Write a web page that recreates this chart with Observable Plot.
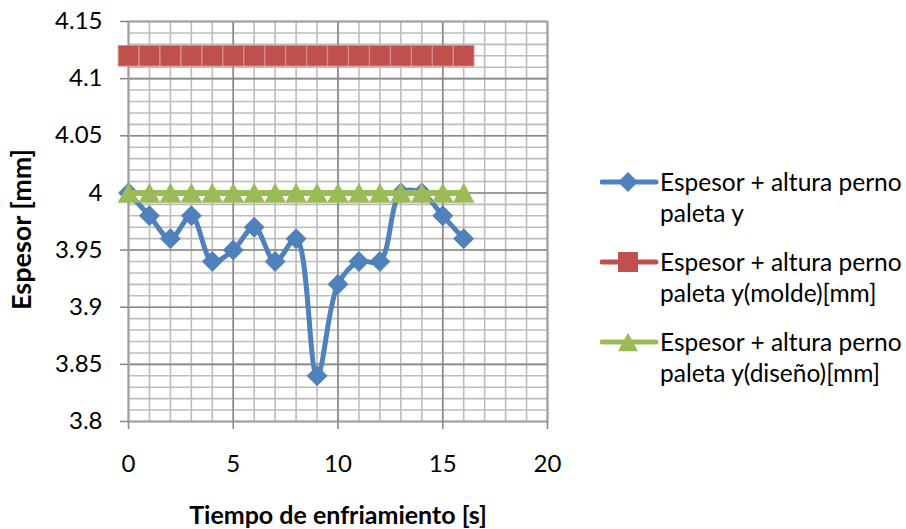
<!DOCTYPE html>
<html>
<head>
<meta charset="utf-8">
<script src="https://cdn.jsdelivr.net/npm/d3@7"></script>
<script src="https://cdn.jsdelivr.net/npm/@observablehq/plot@0.6"></script>
<style>
  html, body { margin: 0; padding: 0; background: #fff; }
  #wrap { position: relative; width: 906px; height: 529px; font-family: Lato, "Open Sans", sans-serif; }
  .leg { position: absolute; display: flex; align-items: flex-start; }
  .leg .txt { font-size: 24.5px; line-height: 31px; color: #000; white-space: nowrap; }
  .leg svg { margin-top: 5px; }
</style>
</head>
<body>
<div id="wrap"></div>
<script>
// ---- data ----
const tiempo = [0, 1, 2, 3, 4, 5, 6, 7, 8, 9, 10, 11, 12, 13, 14, 15, 16];
const espesor = [4.00, 3.98, 3.96, 3.98, 3.94, 3.95, 3.97, 3.94, 3.96, 3.84, 3.92, 3.94, 3.94, 4.00, 4.00, 3.98, 3.96];
const molde = [4.12, 4.12, 4.12, 4.12, 4.12, 4.12, 4.12, 4.12, 4.12, 4.12, 4.12, 4.12, 4.12, 4.12, 4.12, 4.12, 4.12];
const diseno = [4.00, 4.00, 4.00, 4.00, 4.00, 4.00, 4.00, 4.00, 4.00, 4.00, 4.00, 4.00, 4.00, 4.00, 4.00, 4.00, 4.00];
const seriesNames = [
  ["Espesor + altura perno", "paleta y"],
  ["Espesor + altura perno", "paleta y(molde)[mm]"],
  ["Espesor + altura perno", "paleta y(diseño)[mm]"]
];
const seriesColors = ["#4F81BD", "#C0504D", "#9BBB59"];
const xTicks = [0, 5, 10, 15, 20];
const yTicks = [3.8, 3.85, 3.9, 3.95, 4.0, 4.05, 4.1, 4.15];
const xTitle = "Tiempo de enfriamiento [s]";
const yTitle = "Espesor [mm]";

// ---- symbols ----
const diamondSym = { draw(ctx, size) { const r = Math.sqrt(size / Math.PI); ctx.moveTo(0, -r); ctx.lineTo(r, 0); ctx.lineTo(0, r); ctx.lineTo(-r, 0); ctx.closePath(); } };
const squareSym = { draw(ctx, size) { const r = Math.sqrt(size / Math.PI); ctx.rect(-r, -r, 2 * r, 2 * r); } };
const triSym = { draw(ctx, size) { const r = Math.sqrt(size / Math.PI); const h = r * 0.92; ctx.moveTo(0, -h); ctx.lineTo(r, h); ctx.lineTo(-r, h); ctx.closePath(); } };
const symbols = [diamondSym, squareSym, triSym];

const rows = (ys) => tiempo.map((t, i) => ({ t, v: ys[i] }));
const dBlue = rows(espesor), dRed = rows(molde), dGreen = rows(diseno);

const minorX = d3.range(0, 20.001, 1);
const minorY = d3.range(380, 415.001, 1).map(v => v / 100);
const fmt = d => String(+d.toFixed(2));

const chart = Plot.plot({
  width: 906,
  height: 529,
  marginLeft: 128,
  marginRight: 359,
  marginTop: 21,
  marginBottom: 108,
  x: { domain: [0, 20] },
  y: { domain: [3.8, 4.15] },
  style: { fontFamily: "Lato, 'Open Sans', sans-serif", fontSize: "24px", color: "#000", background: "#fff", overflow: "visible" },
  marks: [
    Plot.ruleX(minorX, { stroke: "#bcbcbc", strokeWidth: 1.6 }),
    Plot.ruleY(minorY, { stroke: "#bcbcbc", strokeWidth: 1.6 }),
    Plot.ruleX(xTicks, { stroke: "#8a8a8a", strokeWidth: 1.6 }),
    Plot.ruleY(yTicks, { stroke: "#8a8a8a", strokeWidth: 1.6 }),
    Plot.frame({ stroke: "#a0a0a0", strokeWidth: 1.6 }),
    Plot.axisX({ ticks: xTicks, tickSize: 8, tickPadding: 25, stroke: "#8a8a8a", strokeWidth: 1.6, label: null, tickFormat: fmt }),
    Plot.axisY({ ticks: yTicks, tickSize: 8, tickPadding: 18, stroke: "#8a8a8a", strokeWidth: 1.6, label: null, tickFormat: fmt }),
    Plot.text([xTitle], { frameAnchor: "bottom", lineAnchor: "middle", dy: 94, fontWeight: "bold", fontSize: 25 }),
    Plot.text([yTitle], { frameAnchor: "left", textAnchor: "middle", lineAnchor: "middle", dx: -106, dy: 8, rotate: -90, fontWeight: "bold", fontSize: 27 }),
    Plot.line(dBlue, { x: "t", y: "v", curve: "catmull-rom", stroke: seriesColors[0], strokeWidth: 5 }),
    Plot.dot(dBlue, { x: "t", y: "v", symbol: symbols[0], r: 10, fill: seriesColors[0], stroke: "#4a7ab3", strokeWidth: 0.8 }),
    Plot.line(dRed, { x: "t", y: "v", stroke: seriesColors[1], strokeWidth: 5 }),
    Plot.dot(dRed, { x: "t", y: "v", symbol: symbols[1], r: 10.3, fill: seriesColors[1], stroke: "#d98c8a", strokeWidth: 1 }),
    Plot.line(dGreen, { x: "t", y: "v", stroke: seriesColors[2], strokeWidth: 6 }),
    Plot.dot(dGreen, { x: "t", y: "v", symbol: symbols[2], r: 10.5, fill: seriesColors[2], stroke: "#9BBB59", strokeWidth: 0.5 })
  ]
});

const wrap = document.getElementById("wrap");
wrap.appendChild(chart);

// ---- legend ----
const legTops = [166, 246, 326];
seriesNames.forEach((lines, i) => {
  const row = document.createElement("div");
  row.className = "leg";
  row.style.left = "600px";
  row.style.top = legTops[i] + "px";
  const svg = d3.create("svg").attr("width", 60).attr("height", 22);
  svg.append("line").attr("x1", 2).attr("x2", 56).attr("y1", 11).attr("y2", 11)
    .attr("stroke", seriesColors[i]).attr("stroke-width", 5).attr("stroke-linecap", "round");
  const p = d3.path();
  symbols[i].draw(p, Math.PI * 100);
  svg.append("path").attr("d", p.toString()).attr("transform", "translate(28,11)").attr("fill", seriesColors[i]);
  row.appendChild(svg.node());
  const txt = document.createElement("div");
  txt.className = "txt";
  txt.innerHTML = lines.join("<br>");
  row.appendChild(txt);
  wrap.appendChild(row);
});
</script>
</body>
</html>
